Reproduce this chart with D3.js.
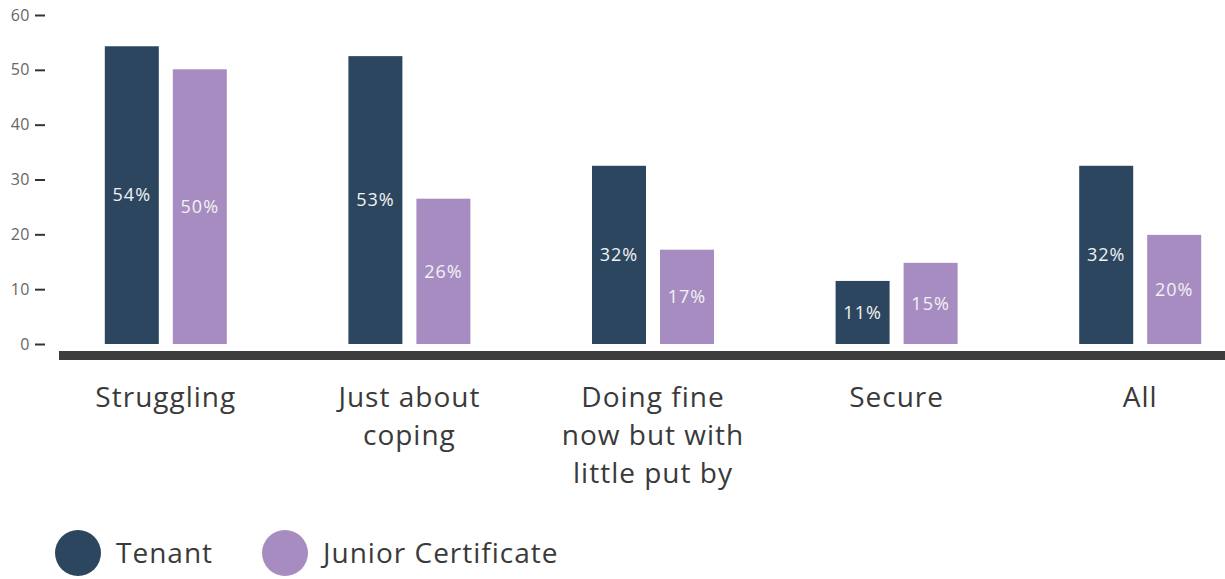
<!DOCTYPE html>
<html>
<head>
<meta charset="utf-8">
<script src="https://cdn.jsdelivr.net/npm/d3@7"></script>
<style>
  body { margin: 0; background: #fff; }
  svg { display: block; font-family: "Open Sans", sans-serif; }
</style>
</head>
<body>
<svg id="chart" width="1225" height="579"></svg>
<script>
// data
var categories = [["Struggling"], ["Just about", "coping"], ["Doing fine", "now but with", "little put by"], ["Secure"], ["All"]];
var seriesNames = ["Tenant", "Junior Certificate"];
var tenantValues = [54.3, 52.5, 32.5, 11.5, 32.5];
var juniorValues = [50.1, 26.5, 17.2, 14.8, 19.9];
var tenantLabels = ["54%", "53%", "32%", "11%", "32%"];
var juniorLabels = ["50%", "26%", "17%", "15%", "20%"];
var yTicks = [0, 10, 20, 30, 40, 50, 60];

var colors = ["#2c4660", "#a78cc2"];

var svg = d3.select("#chart");

var yScale = d3.scaleLinear()
    .domain([0, 60])
    .range([344, 15]);

var xScale = d3.scaleBand()
    .domain(categories.map(function(d, i) { return i; }))
    .range([44, 1262]);

// two bars per group, 54px wide with 14px gap
var subScale = d3.scaleBand()
    .domain([0, 1])
    .range([-61, 61])
    .paddingInner(14/68)
    .paddingOuter(0);

// y axis
var yAxis = d3.axisLeft(yScale)
    .tickValues(yTicks)
    .tickSize(10)
    .tickPadding(5);
var gy = svg.append("g")
    .attr("transform", "translate(45,0)")
    .call(yAxis);
gy.select(".domain").remove();
gy.selectAll(".tick line").attr("stroke", "#333").attr("stroke-width", 2);
gy.selectAll(".tick text")
    .attr("fill", "#666")
    .style("font-size", "16px")
    .style("letter-spacing", "0.5px")
    .style("font-family", "Open Sans, sans-serif");

// bars
var series = [
    {values: tenantValues, labels: tenantLabels},
    {values: juniorValues, labels: juniorLabels}
];

series.forEach(function(s, si) {
    var g = svg.append("g");
    g.selectAll("rect")
        .data(s.values)
        .enter()
        .append("rect")
        .attr("x", function(d, i) { return xScale(i) + xScale.bandwidth()/2 + subScale(si); })
        .attr("y", function(d) { return yScale(d); })
        .attr("width", subScale.bandwidth())
        .attr("height", function(d) { return yScale(0) - yScale(d); })
        .attr("fill", colors[si]);
    g.selectAll("text")
        .data(s.values)
        .enter()
        .append("text")
        .attr("x", function(d, i) { return xScale(i) + xScale.bandwidth()/2 + subScale(si) + subScale.bandwidth()/2; })
        .attr("y", function(d) { return (yScale(d) + yScale(0))/2; })
        .attr("dy", "0.35em")
        .attr("text-anchor", "middle")
        .attr("fill", "#f2f2f2")
        .style("font-size", "18px")
        .style("letter-spacing", "1px")
        .text(function(d, i) { return s.labels[i]; });
});

// baseline
svg.append("rect")
    .attr("x", 59)
    .attr("y", 351)
    .attr("width", 1225 - 59)
    .attr("height", 9)
    .attr("fill", "#3d3d3d");

// category labels
var gx = svg.append("g");
categories.forEach(function(lines, i) {
    var t = gx.append("text")
        .attr("text-anchor", "middle")
        .attr("fill", "#3a3a3a")
        .style("font-size", "28px")
        .style("letter-spacing", "1px");
    lines.forEach(function(line, j) {
        t.append("tspan")
            .attr("x", xScale(i) + xScale.bandwidth()/2)
            .attr("y", 407 + j*38)
            .text(line);
    });
});

// legend
var legend = svg.append("g");
var legendX = [78, 285];
seriesNames.forEach(function(name, i) {
    legend.append("circle")
        .attr("cx", legendX[i])
        .attr("cy", 553)
        .attr("r", 23)
        .attr("fill", colors[i]);
    legend.append("text")
        .attr("x", legendX[i] + 38)
        .attr("y", 553)
        .attr("dy", "0.35em")
        .attr("fill", "#3a3a3a")
        .style("font-size", "28px")
        .style("letter-spacing", "1px")
        .text(name);
});
</script>
</body>
</html>
